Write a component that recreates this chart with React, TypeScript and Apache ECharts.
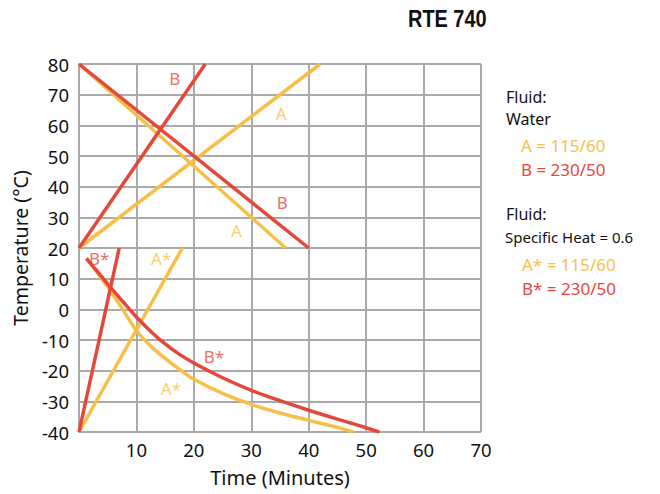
import React, { useEffect, useRef } from "react";
import * as echarts from "echarts";

const YELLOW = "#F8BF47";
const RED = "#E4483B";

const waterARise: [number, number][] = [[0, 20], [42, 80]];
const waterAFall: [number, number][] = [[0, 80], [36, 20]];
const waterBRise: [number, number][] = [[0, 20], [22, 80]];
const waterBFall: [number, number][] = [[0, 80], [40, 20]];
const heatARise: [number, number][] = [[0, -40], [18, 20]];
const heatBRise: [number, number][] = [[0, -40], [7, 20]];
const heatAFall: [number, number][] = [
  [1.3, 16.6], [3, 12.4], [5, 7.3], [7.5, 0.3], [10, -7], [12.5, -12], [15, -16],
  [17.5, -19.6], [20, -22.8], [25, -27.4], [30, -31], [35, -33.8], [40, -36.2],
  [45, -38.5], [47.8, -40],
];
const heatBFall: [number, number][] = [
  [1.3, 16.6], [3, 12.8], [5, 8.2], [7.5, 2.8], [10, -2.5], [12.5, -7.2], [15, -11.3],
  [17.5, -14.7], [20, -17.5], [25, -22.3], [30, -26.4], [35, -29.8], [40, -32.9],
  [45, -35.8], [50, -38.6], [52.3, -40],
];

const redLabels: [number, number, string][] = [
  [16.7, 75.4, "B"], [35.4, 35, "B"], [3.5, 16.5, "B*"], [23.5, -15.3, "B*"],
];
const yellowLabels: [number, number, string][] = [
  [35.2, 64, "A"], [27.4, 25.8, "A"], [14.3, 16.5, "A*"], [16, -25.7, "A*"],
];

const FONT = "'Noto Sans', sans-serif";

export default function App() {
  const ref = useRef<HTMLDivElement>(null);
  useEffect(() => {
    if (!ref.current) return;
    const chart = echarts.init(ref.current, undefined, { renderer: "svg" });
    const line = (data: [number, number][], color: string, smooth = false) => ({
      type: "line",
      data,
      smooth: smooth ? 0.3 : false,
      showSymbol: false,
      symbol: "none",
      lineStyle: { color, width: 3.5 },
      z: 3,
    });
    const labels = (data: [number, number, string][], color: string) => ({
      type: "scatter",
      symbolSize: 0,
      data: data.map((d) => ({ value: [d[0], d[1]], name: d[2] })),
      label: {
        show: true,
        position: "inside",
        formatter: (p: any) => p.name,
        color,
        fontSize: 17,
        fontFamily: FONT,
      },
      z: 4,
    });
    const txt = (left: number, top: number, text: string, color: string, size: number) => ({
      type: "text",
      left,
      top,
      style: { text, fill: color, fontSize: size, fontFamily: FONT },
    });
    chart.setOption({
      animation: false,
      grid: { left: 79, right: 179, top: 64, bottom: 62 },
      xAxis: {
        type: "value",
        min: 0,
        max: 70,
        interval: 10,
        name: "Time (Minutes)",
        nameLocation: "middle",
        nameGap: 35,
        nameTextStyle: { fontSize: 20, fontFamily: FONT, color: "#111" },
        axisLine: { show: true, lineStyle: { color: "#aaa", width: 2 } },
        axisTick: { show: false },
        splitLine: { show: true, lineStyle: { color: "#aaa", width: 2 } },
        axisLabel: {
          fontSize: 18.5,
          fontFamily: FONT,
          color: "#111",
          margin: 8,
          formatter: (v: number) => (v === 0 ? "" : String(v)),
        },
      },
      yAxis: {
        type: "value",
        min: -40,
        max: 80,
        interval: 10,
        name: "Temperature (°C)",
        nameLocation: "middle",
        nameGap: 48,
        nameTextStyle: { fontSize: 19.5, fontFamily: FONT, color: "#111" },
        axisLine: { show: true, lineStyle: { color: "#aaa", width: 2 } },
        axisTick: { show: false },
        splitLine: { show: true, lineStyle: { color: "#aaa", width: 2 } },
        axisLabel: { fontSize: 18.5, fontFamily: FONT, color: "#111", margin: 10 },
      },
      series: [
        line(waterARise, YELLOW),
        line(waterAFall, YELLOW),
        line(heatARise, YELLOW),
        line(heatAFall, YELLOW, true),
        line(waterBRise, RED),
        line(waterBFall, RED),
        line(heatBRise, RED),
        line(heatBFall, RED, true),
        labels(redLabels, RED),
        labels(yellowLabels, YELLOW),
      ],
      graphic: [
        {
          type: "text",
          x: 408,
          y: 7,
          scaleX: 0.83,
          style: {
            text: "RTE 740",
            fill: "#111",
            fontSize: 24,
            fontWeight: "bold",
            fontFamily: "'Liberation Sans', Arial, sans-serif",
          },
        },
        txt(506, 89, "Fluid:", "#111", 16),
        txt(506, 111, "Water", "#111", 16),
        txt(521, 137, "A = 115/60", YELLOW, 17),
        txt(521, 161, "B = 230/50", RED, 17),
        txt(506, 206, "Fluid:", "#111", 16),
        txt(505, 229, "Specific Heat = 0.6", "#111", 15),
        txt(522, 256, "A* = 115/60", YELLOW, 17),
        txt(522, 280, "B* = 230/50", RED, 17),
      ],
    });
    return () => chart.dispose();
  }, []);
  return (
    <div
      ref={ref}
      style={{ position: "absolute", left: 0, top: 0, width: 660, height: 494 }}
    />
  );
}
